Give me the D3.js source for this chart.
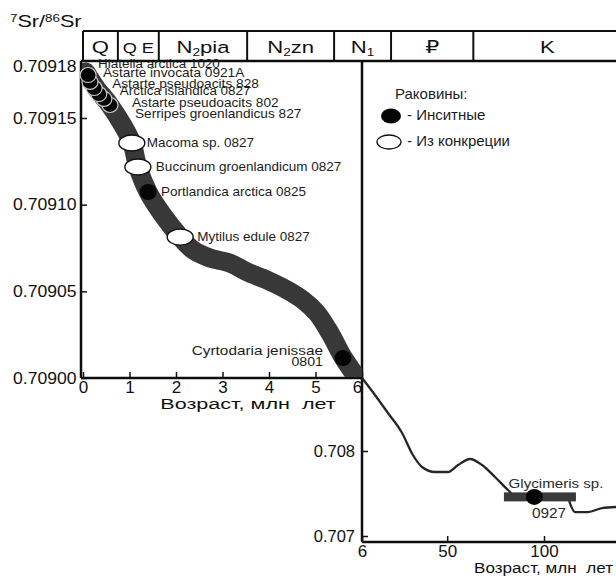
<!DOCTYPE html>
<html>
<head>
<meta charset="utf-8">
<script src="https://cdn.jsdelivr.net/npm/d3@7.9.0/dist/d3.min.js"></script>
<style>
  html, body { margin: 0; padding: 0; background: #fff; }
  svg { display: block; font-family: "Liberation Sans", Arial, "DejaVu Sans", sans-serif; }
</style>
</head>
<body>
<svg id="chart" width="616" height="579"></svg>
<script>
// stratigraphic header: names and the age where each unit starts
const periodNames = ['Q', 'Q E', 'N_{2}pia', 'N_{2}zn', 'N_{1}', '₽', 'K'];
const periodStarts = [0, 0.75, 1.63, 3.53, 5.4, 21, 63.5];
const periodEnd = 140;

// left panel (0-6 Ma): 87Sr/86Sr trend band, centre line
const bandAges = [0.06, 0.30, 0.56, 0.84, 1.05, 1.18, 1.40, 1.70, 2.09, 2.37, 2.73, 3.16,
                  3.53, 3.96, 4.39, 4.73, 5.03, 5.31, 5.59, 5.85, 6.0];
const bandValues = [0.7091765, 0.7091667, 0.7091581, 0.7091465, 0.7091356, 0.7091217,
                    0.7091073, 0.7090946, 0.7090813, 0.7090738, 0.7090692, 0.7090663,
                    0.7090612, 0.7090565, 0.7090508, 0.7090450, 0.7090375, 0.7090260,
                    0.7090121, 0.7090017, 0.7089954];

// right panel (6-140 Ma): seawater curve
const curveAges = [6, 12.7, 19.4, 26.7, 32.3, 37.0, 43.7, 50.4, 55.6, 61.8, 68.0, 74.7,
                   81.4, 85.0, 112.4, 113.4, 116.0, 122.7, 130.0, 137.2];
const curveValues = [0.708859, 0.708659, 0.708447, 0.708212, 0.707953, 0.707812, 0.707753,
                     0.707753, 0.707835, 0.707906, 0.707835, 0.707694, 0.707541, 0.707471,
                     0.707459, 0.707388, 0.707282, 0.707282, 0.707329, 0.707341];

// shells
const shellNames = ['Hiatella arctica 1020', 'Astarte invocata 0921A', 'Astarte pseudoacits 828',
                    'Arctica islandica 0827', 'Astarte pseudoacits 802', 'Serripes groenlandicus 827',
                    'Macoma sp. 0827', 'Buccinum groenlandicum 0827', 'Portlandica arctica 0825',
                    'Mytilus edule 0827', 'Cyrtodaria jenissae\n0801'];
const shellAges = [0.11, 0.15, 0.24, 0.34, 0.45, 0.58, 1.05, 1.18, 1.40, 2.09, 5.59];
const shellValues = [0.7091748, 0.7091708, 0.7091673, 0.7091638, 0.7091610, 0.7091575,
                     0.7091356, 0.7091217, 0.7091073, 0.7090813, 0.7090115];
const shellTypes = ['insitu', 'insitu', 'insitu', 'insitu', 'insitu', 'insitu',
                    'nodule', 'nodule', 'insitu', 'nodule', 'insitu'];

// Glycimeris sp. (right panel)
const glycName = ['Glycimeris sp.', '0927'];
const glycAge = 95;
const glycValue = 0.70746;
const glycRange = [79.3, 116.5];

// axes
const leftYTicks = [0.70900, 0.70905, 0.70910, 0.70915, 0.70918];
const leftXTicks = [0, 1, 2, 3, 4, 5, 6];
const rightYTicks = [0.707, 0.708];
const rightXTicks = [6, 50, 100];
const xTitle = 'Возраст, млн  лет';
const yTitle = '^{7}Sr/^{86}Sr';
const legendTitle = 'Раковины:';
const legendNames = ['- Инситные', '- Из конкреции'];

const svg = d3.select('#chart');
const ink = '#111';

const xL = d3.scaleLinear().domain([0, 6]).range([83, 362]);
const yL = d3.scaleLinear().domain([0.709, 0.70915]).range([378, 118]);
const xR = d3.scaleLinear().domain([6, 100]).range([362, 544]);
const yR = d3.scaleLinear().domain([0.707, 0.708]).range([536, 451]);
const xAge = a => a <= 6 ? xL(a) : xR(a);

// text helper: supports _{sub} and ^{sup}, horizontal stretch
function addText(parent, x, y, str, size, opts = {}) {
  const t = parent.append('text')
    .attr('transform', `translate(${x},${y}) scale(${opts.sx || 1},1)`)
    .attr('text-anchor', opts.anchor || 'start')
    .attr('font-size', size)
    .attr('fill', opts.color || ink)
    .style('white-space', 'pre');
  str.split(/(_\{[^}]*\}|\^\{[^}]*\})/).filter(s => s.length).forEach(part => {
    if (part[0] === '_' || part[0] === '^') {
      t.append('tspan')
        .attr('font-size', size * 0.62)
        .attr('baseline-shift', part[0] === '_' ? '-22%' : '48%')
        .text(part.slice(2, -1));
    } else {
      t.append('tspan').text(part);
    }
  });
  return t;
}

// ---- header band
const header = svg.append('g');
const hTop = 31, hBot = 61;
periodStarts.forEach((a, i) => {
  const x0 = xAge(a);
  const x1 = xAge(i < periodStarts.length - 1 ? periodStarts[i + 1] : periodEnd);
  header.append('line').attr('x1', x0).attr('x2', x0).attr('y1', hTop).attr('y2', hBot)
    .attr('stroke', '#111').attr('stroke-width', 2);
  const small = periodNames[i] === 'Q E';
  addText(header, (x0 + x1) / 2, 53, periodNames[i], small ? 14 : 17,
          { anchor: 'middle', sx: 1.3 });
});
header.append('line').attr('x1', xAge(0)).attr('x2', xAge(periodEnd)).attr('y1', hTop).attr('y2', hTop)
  .attr('stroke', '#111').attr('stroke-width', 2);

// ---- frame lines
const frame = [
  [81, 61, 81, 378], [81, 378, 362, 378], [362, 61, 362, 542], [362, 542, 620, 542], [81, 61, 620, 61]
];
svg.append('g').selectAll('line').data(frame).join('line')
  .attr('x1', d => d[0]).attr('y1', d => d[1]).attr('x2', d => d[2]).attr('y2', d => d[3])
  .attr('stroke', '#0d0d0d').attr('stroke-width', 2.5);

// ---- axes
function styleAxis(g, size, sx) {
  g.select('.domain').remove();
  g.selectAll('.tick line').attr('stroke', '#111').attr('stroke-width', 1.5);
  g.selectAll('.tick text').attr('font-size', size).attr('fill', ink)
    .attr('font-family', '"Liberation Sans", Arial, sans-serif');
  if (sx) g.selectAll('.tick text').attr('transform', `scale(${sx},1)`);
}

svg.append('g').attr('transform', 'translate(81,0)')
  .call(d3.axisLeft(yL).tickValues(leftYTicks).tickFormat(d3.format('.5f'))
    .tickSizeInner(-6).tickSizeOuter(0).tickPadding(4))
  .call(g => styleAxis(g, 16, 1.1));

svg.append('g').attr('transform', 'translate(0,378)')
  .call(d3.axisBottom(xL).tickValues(leftXTicks).tickFormat(d3.format('d'))
    .tickSizeInner(-6).tickSizeOuter(0).tickPadding(3))
  .call(g => styleAxis(g, 17))
  .call(g => g.selectAll('.tick text').filter(d => d === 6).attr('dx', -5));

svg.append('g').attr('transform', 'translate(362,0)')
  .call(d3.axisLeft(yR).tickValues(rightYTicks).tickFormat(d3.format('.3f'))
    .tickSizeInner(-6).tickSizeOuter(0).tickPadding(7))
  .call(g => styleAxis(g, 16.5));

svg.append('g').attr('transform', 'translate(0,542)')
  .call(d3.axisBottom(xR).tickValues(rightXTicks).tickFormat(d3.format('d'))
    .tickSizeInner(-6).tickSizeOuter(0).tickPadding(3))
  .call(g => styleAxis(g, 17));

// titles
addText(svg, 10, 27, yTitle, 17, { sx: 1.27 });
addText(svg, 248, 409, xTitle, 15, { anchor: 'middle', sx: 1.44 });
addText(svg, 613, 573, xTitle, 15, { anchor: 'end', sx: 1.14 });

// ---- left band
svg.append('clipPath').attr('id', 'clipL').append('rect')
  .attr('x', 82).attr('y', 62).attr('width', 280).attr('height', 315);
const bandLine = d3.line().x(d => xL(d[0])).y(d => yL(d[1])).curve(d3.curveCatmullRom);
svg.append('path')
  .attr('clip-path', 'url(#clipL)')
  .attr('d', bandLine(d3.zip(bandAges, bandValues)))
  .attr('fill', 'none').attr('stroke', '#383838').attr('stroke-width', 19)
  .attr('stroke-linecap', 'round').attr('stroke-linejoin', 'round');

// ---- right curve
const curveLine = d3.line().x(d => xR(d[0])).y(d => yR(d[1])).curve(d3.curveMonotoneX);
svg.append('path')
  .attr('d', curveLine(d3.zip(curveAges, curveValues)))
  .attr('fill', 'none').attr('stroke', '#262626').attr('stroke-width', 2.3);

// Glycimeris bar + shell
svg.append('rect')
  .attr('x', xR(glycRange[0])).attr('width', xR(glycRange[1]) - xR(glycRange[0]))
  .attr('y', yR(glycValue) - 4.5).attr('height', 9)
  .attr('fill', '#3a3a3a');
svg.append('ellipse').attr('cx', xR(glycAge)).attr('cy', yR(glycValue))
  .attr('rx', 8.5).attr('ry', 8).attr('fill', '#050505');
addText(svg, 556, 488, glycName[0], 13.5, { anchor: 'middle', sx: 1.12, color: '#2a2a2a' });
addText(svg, 549, 518, glycName[1], 14, { anchor: 'middle', sx: 1.1, color: '#2a2a2a' });

// ---- shells in left panel; label offsets [dx, dy, fontsize, stretch]
const labelLayout = [
  [10, -7, 12, 1.12], [13, -5, 12, 1.14], [18, 0, 12, 1.14], [21, 1, 12, 1.12],
  [28, 8, 12, 1.14], [25, 13, 12, 1.14], [15, 4, 13.5, 1], [18, 4, 13.5, 1],
  [13, 4, 13.5, 1], [17, 4, 13.5, 1], [-20, -3, 13, 1.18]
];
const shells = shellNames.map((n, i) => ({
  name: n, age: shellAges[i], value: shellValues[i], type: shellTypes[i], lay: labelLayout[i]
}));

const marks = svg.append('g');
shells.slice().reverse().forEach(s => {
  const cx = xL(s.age), cy = yL(s.value);
  if (s.type === 'insitu') {
    const cluster = s.age < 1;
    marks.append('ellipse').attr('cx', cx).attr('cy', cy)
      .attr('rx', cluster ? 8 : 8.5).attr('ry', cluster ? 7.5 : 8)
      .attr('fill', '#050505')
      .attr('stroke', cluster ? '#c8c8c8' : 'none').attr('stroke-width', 1.2);
  } else {
    marks.append('ellipse').attr('cx', cx).attr('cy', cy)
      .attr('rx', 13).attr('ry', 8)
      .attr('fill', '#fff').attr('stroke', '#111').attr('stroke-width', 1.4);
  }
});

shells.forEach(s => {
  const cx = xL(s.age), cy = yL(s.value);
  const [dx, dy, fs, sx] = s.lay;
  const lines = s.name.split('\n');
  lines.forEach((ln, j) => {
    addText(svg, cx + dx, cy + dy + j * 11, ln, j ? 12 : fs,
            { anchor: dx < 0 ? 'end' : 'start', sx: sx, color: '#1c1c1c' });
  });
});

// ---- legend
const legend = svg.append('g');
addText(legend, 395, 99, legendTitle, 15, { color: '#1c1c1c' });
legend.append('ellipse').attr('cx', 391).attr('cy', 116).attr('rx', 10).attr('ry', 7.5)
  .attr('fill', '#050505');
legend.append('ellipse').attr('cx', 389).attr('cy', 142).attr('rx', 12).attr('ry', 7)
  .attr('fill', '#fff').attr('stroke', '#111').attr('stroke-width', 1.3);
addText(legend, 407, 120, legendNames[0], 15, { color: '#1c1c1c' });
addText(legend, 407, 146, legendNames[1], 15, { color: '#1c1c1c' });
</script>
</body>
</html>
